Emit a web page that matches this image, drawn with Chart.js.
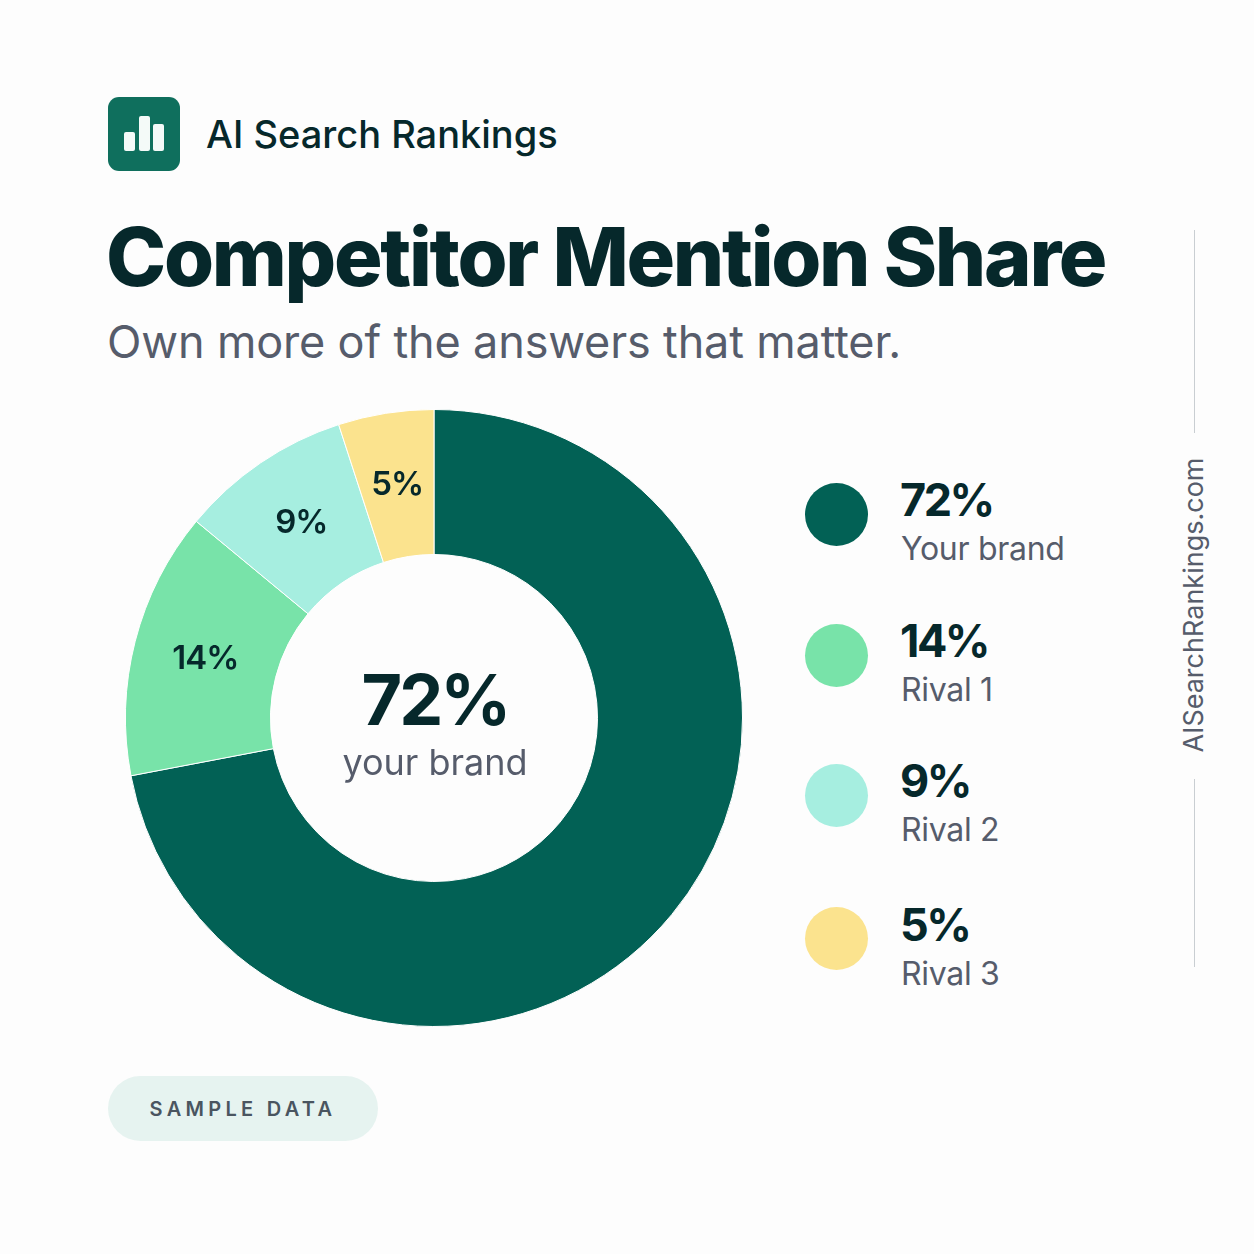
<!DOCTYPE html>
<html>
<head>
<meta charset="utf-8">
<title>Competitor Mention Share</title>
<script src="https://cdn.jsdelivr.net/npm/chart.js@4"></script>
<style>
html, body { margin: 0; padding: 0; background: #fdfdfd; }
body { width: 1254px; height: 1254px; position: relative; overflow: hidden; font-family: Inter, "Noto Sans", sans-serif; color: #06282b; }
.abs { position: absolute; white-space: nowrap; }
#logo { left: 108px; top: 97px; width: 72px; height: 74px; border-radius: 11px; background: #0f6f5d; }
#logo i { position: absolute; bottom: 20px; width: 11px; background: #f4faf8; border-radius: 2px; }
#brand { left: 206px; top: 110px; font-size: 38px; font-weight: 500; line-height: 48px; letter-spacing: 0; }
#title { left: 106px; top: 208px; font-size: 81px; font-weight: 800; line-height: 98px; letter-spacing: -2.3px; }
#subtitle { left: 107px; top: 314px; font-size: 45px; line-height: 56px; color: #565c6b; letter-spacing: -0.15px; }
#chartBox { left: 114px; top: 398px; width: 640px; height: 640px; }
#centerValue { left: 285px; width: 300px; top: 658px; text-align: center; font-size: 70px; font-weight: 700; line-height: 84px; letter-spacing: -3px; }
#centerName { left: 285px; width: 300px; top: 739px; text-align: center; font-size: 36px; line-height: 46px; color: #565c6b; }
.dot { position: absolute; left: 805px; width: 63px; height: 63px; border-radius: 50%; }
.legPct { position: absolute; left: 900px; font-size: 45px; font-weight: 700; line-height: 54px; white-space: nowrap; letter-spacing: -2.5px; }
.legName { position: absolute; left: 901px; font-size: 32px; line-height: 40px; color: #565c6b; white-space: nowrap; letter-spacing: -0.3px; }
#pill { left: 108px; top: 1076px; width: 270px; height: 65px; border-radius: 33px; background: #e6f3f0; text-align: center; line-height: 66px; font-size: 20px; font-weight: 600; letter-spacing: 4.3px; color: #4a5560; }
.rule { position: absolute; left: 1194px; width: 1px; background: #c9ced2; }
#side { left: 1193px; top: 605px; transform: translate(-50%, -50%) rotate(-90deg); font-size: 27px; color: #565c6b; }
</style>
</head>
<body>
<div class="abs" id="logo"><i style="left:16px;height:19px"></i><i style="left:31px;height:35px"></i><i style="left:45px;height:27px"></i></div>
<div class="abs" id="brand">AI Search Rankings</div>
<div class="abs" id="title">Competitor Mention Share</div>
<div class="abs" id="subtitle">Own more of the answers that matter.</div>
<div class="abs" id="chartBox"><canvas id="shareChart" width="640" height="640"></canvas></div>
<div class="abs" id="centerValue">72%</div>
<div class="abs" id="centerName">your brand</div>
<div id="legend"></div>
<div class="abs" id="pill">SAMPLE DATA</div>
<div class="rule" style="top:230px;height:203px"></div>
<div class="rule" style="top:779px;height:188px"></div>
<div class="abs" id="side">AISearchRankings.com</div>

<script>
// values as printed on the chart
const categories = ['Your brand', 'Rival 1', 'Rival 2', 'Rival 3'];
const shares = [72, 14, 9, 5];
const sliceColors = ['#026155', '#78e3a9', '#a6eee0', '#fbe38e'];

// legend rows, top offsets
const dotTops = [483, 624, 764, 907];
const textTops = [483, 624, 764, 908];

const legendBox = document.getElementById('legend');
categories.forEach(function (name, i) {
    legendBox.insertAdjacentHTML('beforeend',
        '<div class="dot" style="top:' + dotTops[i] + 'px;background:' + sliceColors[i] + '"></div>' +
        '<div class="legPct" style="top:' + (textTops[i] - 10) + 'px">' + shares[i] + '%</div>' +
        '<div class="legName" style="top:' + (textTops[i] + 46) + 'px">' + name + '</div>');
});

// percent labels inside the small slices
const sliceLabels = {
    id: 'sliceLabels',
    afterDatasetsDraw(chart) {
        const ctx = chart.ctx;
        const arcs = chart.getDatasetMeta(0).data;
        ctx.save();
        ctx.font = '600 33px Inter, "Noto Sans", sans-serif';
        ctx.letterSpacing = '-1px';
        ctx.fillStyle = '#06282b';
        ctx.textAlign = 'center';
        ctx.textBaseline = 'middle';
        arcs.forEach(function (arc, i) {
            if (i === 0) return; // big slice is labelled in the hole
            const pos = arc.tooltipPosition();
            ctx.fillText(shares[i] + '%', pos.x, pos.y);
        });
        ctx.restore();
    }
};

new Chart(document.getElementById('shareChart').getContext('2d'), {
    type: 'doughnut',
    data: {
        labels: categories,
        datasets: [{
            data: shares,
            backgroundColor: sliceColors,
            borderColor: '#ffffff',
            borderWidth: 1
        }]
    },
    options: {
        responsive: false,
        animation: false,
        cutout: '53%',
        layout: { padding: 11 },
        plugins: {
            legend: { display: false },
            tooltip: { enabled: false }
        }
    },
    plugins: [sliceLabels]
});
</script>
</body>
</html>
